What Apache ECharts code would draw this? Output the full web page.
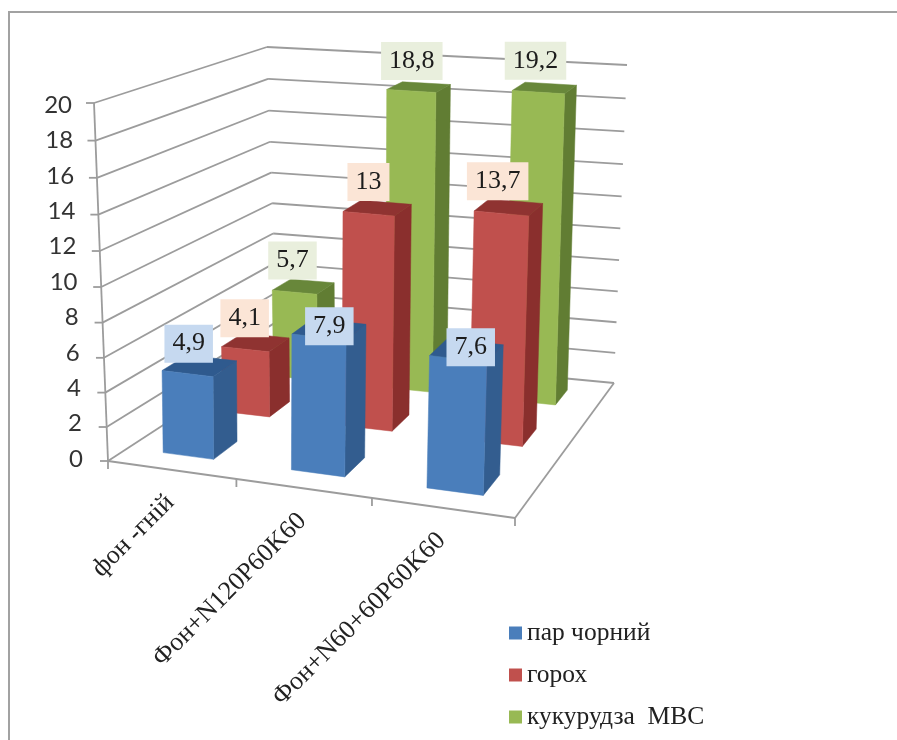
<!DOCTYPE html>
<html>
<head>
<meta charset="utf-8">
<style>html,body{margin:0;padding:0;background:#fff}#chart{width:897px;height:740px}</style>
<script src="https://cdn.jsdelivr.net/npm/echarts@6/dist/echarts.min.js"></script>
</head>
<body>
<div id="chart"></div>
<script>
// Chart data
const categories = ['фон -гній', 'Фон+N120P60K60', 'Фон+N60+60P60K60'];
const seriesNames = ['пар чорний', 'горох', 'кукурудза  МВС'];
const parValues = [4.9, 7.9, 7.6];
const gorohValues = [4.1, 13, 13.7];
const kukurudzaValues = [5.7, 18.8, 19.2];
const yTicks = [0, 2, 4, 6, 8, 10, 12, 14, 16, 18, 20];

// Visual layout of the pseudo-3D box: screen corners of floor and ceiling
const FLOOR = [[108, 461], [515, 518], [614, 383], [277, 351]];
const CEIL = [[94, 103], [532, 144], [627, 65], [267, 47]];
const GRID = { left: 100, top: 100, width: 300, height: 300 };
const BAR_FILL = 0.4;
const SERIF = '"Liberation Serif", "Times New Roman", serif';
const PALETTE = [
  { front: '#4a7ebb', side: '#335d8f', top: '#2f5a8e', label: '#c6d9f0' },
  { front: '#c0504d', side: '#8a2f2d', top: '#8f3331', label: '#fbe5d6' },
  { front: '#98b954', side: '#617d33', top: '#68873a', label: '#e9efdd' }
];
// Nudges of value labels from the centre of each bar top, per series and category
const LABEL_SHIFT = [
  [[-11, -22], [0, -3], [4, -3]],
  [[-11, -24], [-9, -26], [-11, -26]],
  [[-11, -26], [-7, -26], [-9, -27]]
];

function homography(q) {
  const [[x0, y0], [x1, y1], [x2, y2], [x3, y3]] = q;
  const dx1 = x1 - x2, dx2 = x3 - x2, sx = x0 - x1 + x2 - x3;
  const dy1 = y1 - y2, dy2 = y3 - y2, sy = y0 - y1 + y2 - y3;
  const den = dx1 * dy2 - dx2 * dy1;
  const g = (sx * dy2 - dx2 * sy) / den, h = (dx1 * sy - sx * dy1) / den;
  const a = x1 - x0 + g * x1, b = x3 - x0 + h * x3;
  const d = y1 - y0 + g * y1, e = y3 - y0 + h * y3;
  return (u, w) => {
    const k = g * u + h * w + 1;
    return [(a * u + b * w + x0) / k, (d * u + e * w + y0) / k];
  };
}
const floorAt = homography(FLOOR);
const ceilAt = homography(CEIL);
const warpU = (u, w) => u + 0.055 * u * (1 - u) * (1 - w);
const warpV = v => v - 0.056 * v * (1 - v);
// u across categories, w into depth, v up the value axis (all 0..1)
function project(u, w, v) {
  const uu = warpU(u, w), vv = warpV(v);
  const p = floorAt(uu, w), q = ceilAt(uu, w);
  return [p[0] + (q[0] - p[0]) * vv, p[1] + (q[1] - p[1]) * vv];
}
// Columns stand almost upright: their lean grows gently from left to right
function projectBar(u, w, v) {
  const uu = warpU(u, w), vv = warpV(v) * 0.99;
  const p = floorAt(uu, w), q = ceilAt(uu, w);
  return [p[0] - 2.5 + 1.5 * u + vv * (-6.5 + 18 * u), p[1] + (q[1] - p[1]) * vv];
}
const toU = x => (x - GRID.left) / GRID.width;
const toV = y => (GRID.top + GRID.height - y) / GRID.height;

function poly(points, fill, z2) {
  return { type: 'polygon', shape: { points }, style: { fill, stroke: fill, lineWidth: 0.5 }, z2 };
}
function line(a, b, z2) {
  return {
    type: 'line', shape: { x1: a[0], y1: a[1], x2: b[0], y2: b[1] },
    style: { stroke: '#9c9c9c', lineWidth: 1.8 }, z2
  };
}

function barRenderer(seriesIndex) {
  const rows = seriesNames.length;
  const colors = PALETTE[seriesIndex];
  return (params, api) => {
    const cat = api.value(0), val = api.value(1);
    const pt = api.coord([cat, val]);
    const u = toU(pt[0]), v = toV(pt[1]);
    const du = api.size([1, 0])[0] / GRID.width * BAR_FILL / 2;
    const wc = (seriesIndex + 0.5) / rows, dw = BAR_FILL / rows / 2;
    const u0 = u - du, u1 = u + du, w0 = wc - dw, w1 = wc + dw;
    const base = 100 * (rows - seriesIndex) + cat * 10;
    const shift = LABEL_SHIFT[seriesIndex][cat];
    const c = projectBar(u, wc, v);
    return {
      type: 'group',
      children: [
        poly([projectBar(u0, w0, 0), projectBar(u1, w0, 0), projectBar(u1, w0, v), projectBar(u0, w0, v)], colors.front, base + 2),
        poly([projectBar(u1, w0, 0), projectBar(u1, w1, 0), projectBar(u1, w1, v), projectBar(u1, w0, v)], colors.side, base + 1),
        poly([projectBar(u0, w0, v), projectBar(u1, w0, v), projectBar(u1, w1, v), projectBar(u0, w1, v)], colors.top, base + 1),
        {
          type: 'text', x: c[0] + shift[0], y: c[1] + shift[1], z2: 1000 + base,
          style: {
            text: String(val).replace('.', ','), font: '26px ' + SERIF, fill: '#1c1c1c',
            align: 'center', verticalAlign: 'middle',
            backgroundColor: colors.label, padding: [6, 8]
          }
        }
      ]
    };
  };
}

function renderWall(params, api) {
  const tick = api.value(1);
  const v = toV(api.coord([0, tick])[1]);
  const a = project(0, 0, v), b = project(0, 1, v), c = project(1, 1, v);
  return {
    type: 'group',
    children: [
      line(a, b, 1), line(b, c, 1),
      line([a[0] - 8, a[1]], a, 1),
      {
        type: 'text', x: 83 - 11 * v, y: 459 - 354 * v, z2: 1,
        style: { text: String(tick), font: '24px Lato, sans-serif', fill: '#333', align: 'right', verticalAlign: 'middle' }
      }
    ]
  };
}

function renderFloor(params, api) {
  const corner = [[0, 0], [1, 0], [1, 1]].map(p => project(p[0], p[1], 0));
  const children = [line(corner[0], corner[1], 1), line(corner[1], corner[2], 1), line(project(0, 0, 0), project(0, 0, 1), 1)];
  for (let i = 0; i <= categories.length; i++) {
    const t = project(i / categories.length, 0, 0);
    children.push(line(t, [t[0], t[1] + 8], 1));
  }
  return { type: 'group', children };
}

function renderCategory(params, api) {
  const cat = api.value(0);
  const c = project(toU(api.coord([cat, 0])[0]), 0, 0);
  return {
    type: 'text', x: c[0] - 1, y: c[1] + 29, rotation: Math.PI / 4, z2: 1,
    style: { text: categories[cat], font: '26px ' + SERIF, fill: '#222', align: 'right', verticalAlign: 'middle' }
  };
}

const barSeries = [parValues, gorohValues, kukurudzaValues].map((values, s) => ({
  type: 'custom',
  name: seriesNames[s],
  coordinateSystem: 'cartesian2d',
  clip: false,
  silent: true,
  itemStyle: { color: PALETTE[s].front },
  renderItem: barRenderer(s),
  data: values.map((v, i) => [i, v])
}));

const chart = echarts.init(document.getElementById('chart'), null, { renderer: 'canvas' });
chart.setOption({
  animation: false,
  backgroundColor: '#fff',
  grid: Object.assign({ containLabel: false }, GRID),
  xAxis: { type: 'category', data: categories, show: false },
  yAxis: { type: 'value', min: 0, max: 20, interval: 2, show: false },
  legend: {
    data: seriesNames, orient: 'vertical', left: 504, top: 615, itemGap: 16,
    icon: 'rect', itemWidth: 13, itemHeight: 13, selectedMode: false,
    textStyle: { fontFamily: SERIF, fontSize: 25.5, color: '#222' }
  },
  graphic: [
    { type: 'polyline', shape: { points: [[9, 740], [9, 12], [897, 12]] }, style: { stroke: '#a2a2a2', lineWidth: 2, fill: null }, silent: true }
  ],
  series: [
    { type: 'custom', name: 'стіни', coordinateSystem: 'cartesian2d', clip: false, silent: true, renderItem: renderWall, data: yTicks.map(t => [0, t]) },
    { type: 'custom', name: 'підлога', coordinateSystem: 'cartesian2d', clip: false, silent: true, renderItem: renderFloor, data: [[0, 0]] },
    { type: 'custom', name: 'категорії', coordinateSystem: 'cartesian2d', clip: false, silent: true, renderItem: renderCategory, data: categories.map((c, i) => [i, 0]) }
  ].concat(barSeries)
});
</script>
</body>
</html>
